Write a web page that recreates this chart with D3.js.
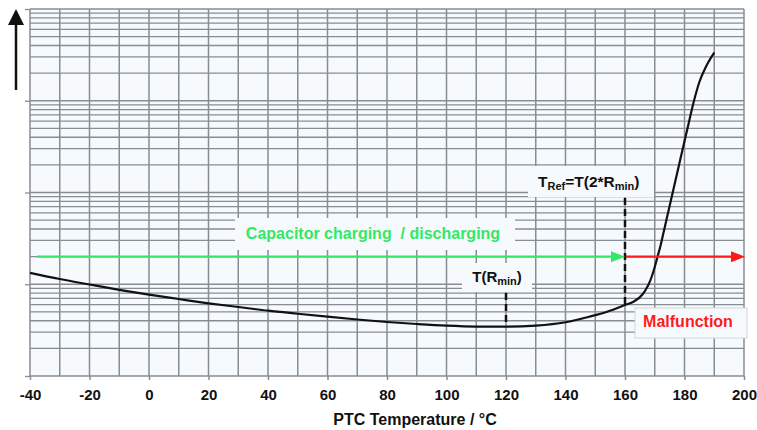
<!DOCTYPE html>
<html>
<head>
<meta charset="utf-8">
<script src="https://cdn.jsdelivr.net/npm/d3@7"></script>
<style>
  html, body { margin: 0; padding: 0; background: #ffffff; }
  svg { display: block; font-family: "Liberation Sans", Arial, sans-serif; }
</style>
</head>
<body>
<svg id="chart" width="757" height="430"></svg>
<script>
// ---- data ----
const temperatures = [-40,-30,-20,-10,0,10,20,30,40,50,60,70,80,90,100,110,120,130,140,148,154,160,163,166,167,168,169,170,171,172,173,175,177,179,181,183,185,187,190];
const resistance   = [13.3,11.4,9.94,8.7,7.7,6.9,6.2,5.65,5.15,4.77,4.43,4.13,3.88,3.69,3.54,3.46,3.45,3.54,3.85,4.43,5.02,5.94,6.49,7.83,8.77,10.06,12.15,15.42,20.3,26.8,37.1,71.3,136.9,262.8,498,945,1601,2275,3340];
const xTickLabels = [-40,-20,0,20,40,60,80,100,120,140,160,180,200];
const yDecades = [1,10,100,1000,10000];
const tMin = 120, rMin = 3.45;
const tRef = 160, rRef = 5.94;
const arrowLevel = 20;

// ---- scales ----
const svg = d3.select("#chart");
const x = d3.scaleLinear().domain([-40,200]).range([30,744]);
const y = d3.scaleLog().domain([1,10000]).range([376,9]);

const gridColor = "#868d94";
const font = "Liberation Sans, Arial, sans-serif";

// plot background
svg.append("rect").attr("x", x(-40)).attr("y", y(10000))
  .attr("width", x(200)-x(-40)).attr("height", y(1)-y(10000))
  .attr("fill", "#f6fafd");

// horizontal log grid
const hLines = [];
yDecades.slice(0,-1).forEach(d => { for (let m = 1; m <= 9; m++) hLines.push(d*m); });
hLines.push(10000);
svg.append("g").selectAll("line").data(hLines).join("line")
  .attr("x1", x(-40)).attr("x2", x(200))
  .attr("y1", d => y(d)).attr("y2", d => y(d))
  .attr("stroke", gridColor).attr("stroke-width", 1.3);

// vertical grid
svg.append("g").selectAll("line").data(d3.range(-40, 201, 10)).join("line")
  .attr("x1", d => x(d)).attr("x2", d => x(d))
  .attr("y1", y(10000)).attr("y2", y(1))
  .attr("stroke", gridColor).attr("stroke-width", 1.5);

// axes
const xAxis = svg.append("g").attr("transform", `translate(0,${y(1)})`)
  .call(d3.axisBottom(x).tickValues(xTickLabels).tickSize(4).tickPadding(9).tickFormat(d => String(d)));
xAxis.select(".domain").remove();
xAxis.selectAll(".tick line").attr("stroke", gridColor).attr("stroke-width", 1.5);
xAxis.selectAll("text").attr("font-size", 15).attr("font-weight", "bold").attr("fill", "#111")
  .attr("font-family", font);

const yAxis = svg.append("g").attr("transform", `translate(${x(-40)},0)`)
  .call(d3.axisLeft(y).tickValues(yDecades).tickSize(5).tickFormat(""));
yAxis.select(".domain").remove();
yAxis.selectAll(".tick line").attr("stroke", gridColor).attr("stroke-width", 1.3);

svg.append("text").attr("x", 415).attr("y", 425).attr("text-anchor", "middle")
  .attr("font-size", 16).attr("font-weight", "bold").attr("fill", "#111")
  .text("PTC Temperature / °C");

// label boxes (cover grid)
const boxFill = "#f6fafd";
function box(x0, y0, x1, y1, stroke) {
  svg.append("rect").attr("x", x0).attr("y", y0).attr("width", x1-x0).attr("height", y1-y0)
    .attr("fill", boxFill).attr("stroke", stroke || "none").attr("stroke-width", 1);
}
box(235, 218, 515, 250);
box(528, 166, 654, 197);
box(462, 263, 532, 292);
box(635, 308, 747, 338, "#d4d8dc");

// curve
const pts = temperatures.map((t, i) => [t, resistance[i]]);
svg.append("path").datum(pts)
  .attr("d", d3.line().x(d => x(d[0])).y(d => y(d[1])).curve(d3.curveMonotoneX))
  .attr("fill", "none").attr("stroke", "#111").attr("stroke-width", 2.2);

// dashed markers
svg.append("line").attr("x1", x(tRef)).attr("x2", x(tRef))
  .attr("y1", 198).attr("y2", y(rRef))
  .attr("stroke", "#111").attr("stroke-width", 2.5).attr("stroke-dasharray", "7,4");
svg.append("line").attr("x1", x(tMin)).attr("x2", x(tMin))
  .attr("y1", 293).attr("y2", y(rMin))
  .attr("stroke", "#111").attr("stroke-width", 2.5).attr("stroke-dasharray", "7,4");

// arrows
function hArrow(x0, x1, yy, color) {
  svg.append("line").attr("x1", x0).attr("x2", x1 - 12).attr("y1", yy).attr("y2", yy)
    .attr("stroke", color).attr("stroke-width", 2.2);
  svg.append("path").attr("d", `M${x1},${yy} L${x1-14},${yy-5.5} L${x1-14},${yy+5.5} Z`).attr("fill", color);
}
const ay = y(arrowLevel);
hArrow(37, x(tRef), ay, "#33e866");
hArrow(x(tRef) + 1, 745, ay, "#ff1a1a");

// up arrow at left
svg.append("line").attr("x1", 16).attr("x2", 16).attr("y1", 90).attr("y2", 22)
  .attr("stroke", "#111").attr("stroke-width", 2.5);
svg.append("path").attr("d", "M16,9 L8,25 L24,25 Z").attr("fill", "#111");

// texts
svg.append("text").attr("x", 373).attr("y", 239).attr("text-anchor", "middle")
  .attr("font-size", 16).attr("font-weight", "bold").attr("fill", "#33e866")
  .attr("xml:space", "preserve")
  .text("Capacitor charging  / discharging");

const tref = svg.append("text").attr("x", 538).attr("y", 187)
  .attr("font-size", 15.5).attr("font-weight", "bold").attr("fill", "#111");
tref.append("tspan").text("T");
tref.append("tspan").attr("font-size", 11).attr("dy", 3).text("Ref");
tref.append("tspan").attr("dy", -3).text("=T(2*R");
tref.append("tspan").attr("font-size", 11).attr("dy", 3).text("min");
tref.append("tspan").attr("dy", -3).text(")");

const trmin = svg.append("text").attr("x", 497).attr("y", 282).attr("text-anchor", "middle")
  .attr("font-size", 15).attr("font-weight", "bold").attr("fill", "#111");
trmin.append("tspan").text("T(R");
trmin.append("tspan").attr("font-size", 11).attr("dy", 3).text("min");
trmin.append("tspan").attr("dy", -3).text(")");

svg.append("text").attr("x", 688).attr("y", 327).attr("text-anchor", "middle")
  .attr("font-size", 16).attr("font-weight", "bold").attr("fill", "#ff1a1a")
  .text("Malfunction");
</script>
</body>
</html>
